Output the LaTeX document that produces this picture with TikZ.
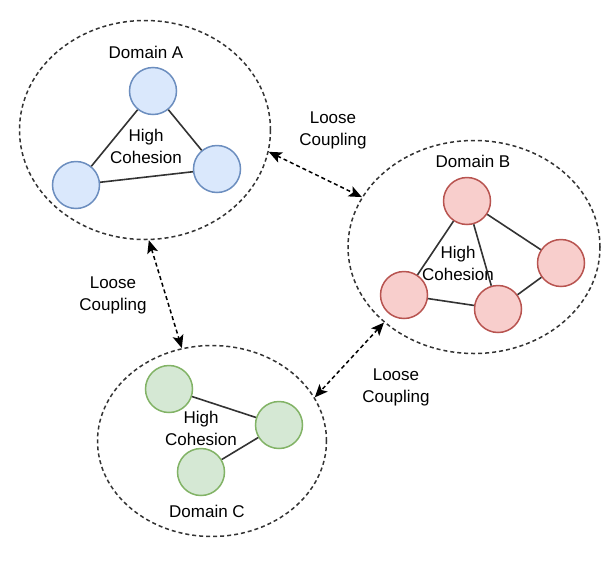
\documentclass[tikz,border=0pt]{standalone}
\usepackage{fontspec}
\setmainfont{Liberation Sans}
\usetikzlibrary{shapes.geometric,arrows.meta}
\definecolor{blueFill}{HTML}{DAE8FC}
\definecolor{blueLine}{HTML}{6C8EBF}
\definecolor{redFill}{HTML}{F8CECC}
\definecolor{redLine}{HTML}{B85450}
\definecolor{greenFill}{HTML}{D5E8D4}
\definecolor{greenLine}{HTML}{82B366}
\definecolor{edgeGray}{HTML}{333333}
\tikzset{
  domainbox/.style={ellipse,draw=edgeGray,line width=1.5pt,dash pattern=on 4pt off 3pt,inner sep=0pt},
  svc/.style={circle,line width=1.5pt,minimum size=47pt,inner sep=0pt},
  svcA/.style={svc,draw=blueLine,fill=blueFill},
  svcB/.style={svc,draw=redLine,fill=redFill},
  svcC/.style={svc,draw=greenLine,fill=greenFill},
  lbl/.style={font=\fontsize{17}{22}\selectfont,align=center,inner sep=0pt},
  tie/.style={draw=edgeGray,line width=1.6pt},
  coupling/.style={draw=black,line width=1.5pt,dash pattern=on 4pt off 3pt,
    {Stealth[length=13pt,width=11pt,inset=3pt]}-{Stealth[length=13pt,width=11pt,inset=3pt]}}
}
\begin{document}
\begin{tikzpicture}[x=1pt,y=-1pt]
\useasboundingbox (0,0) rectangle (613,560);

\node[domainbox,minimum width=251pt,minimum height=219pt] (domA) at (145,130) {};
\node[domainbox,minimum width=252pt,minimum height=213pt] (domB) at (474,247) {};
\node[domainbox,minimum width=229pt,minimum height=191pt] (domC) at (212,441) {};

\node[svcA] (a1) at (153,91) {};
\node[svcA] (a2) at (76,185) {};
\node[svcA] (a3) at (217,169) {};
\draw[tie] (a1) -- (a2);
\draw[tie] (a2) -- (a3);
\draw[tie] (a3) -- (a1);
\node[lbl] (nameA) at (146,52) {Domain A};
\node[lbl] (cohA) at (146,146) {High\\Cohesion};

\node[svcB] (b1) at (467,201) {};
\node[svcB] (b2) at (404,295) {};
\node[svcB] (b3) at (498,309) {};
\node[svcB] (b4) at (561,263) {};
\draw[tie] (b1) -- (b2);
\draw[tie] (b1) -- (b3);
\draw[tie] (b1) -- (b4);
\draw[tie] (b2) -- (b3);
\draw[tie] (b3) -- (b4);
\node[lbl] (nameB) at (473,161) {Domain B};
\node[lbl] (cohB) at (458,263) {High\\Cohesion};

\node[svcC] (c1) at (169,389) {};
\node[svcC] (c2) at (279,425) {};
\node[svcC] (c3) at (201,472) {};
\draw[tie] (c1) -- (c2);
\draw[tie] (c2) -- (c3);
\node[lbl] (cohC) at (201,428) {High\\Cohesion};
\node[lbl] (nameC) at (207,511) {Domain C};

\draw[coupling] (domA.-10) -- (domB.156);
\draw[coupling] (domA.-88) -- (domC.108);
\draw[coupling] (domB.220) -- (domC.23);
\node[lbl] (cplAB) at (333,130) {Loose\\Coupling};
\node[lbl] (cplAC) at (113,295) {Loose\\Coupling};
\node[lbl] (cplBC) at (396,387) {Loose\\Coupling};
\end{tikzpicture}
\end{document}
